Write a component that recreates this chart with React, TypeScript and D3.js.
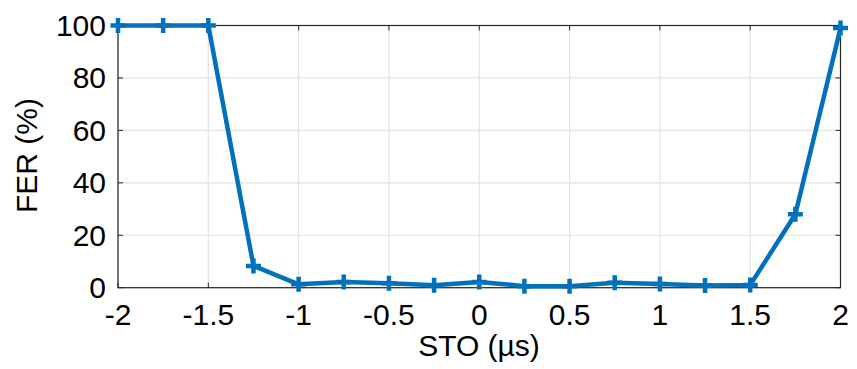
import React from "react";
import * as d3 from "d3";

const stoValues = [-2, -1.75, -1.5, -1.25, -1, -0.75, -0.5, -0.25, 0, 0.25, 0.5, 0.75, 1, 1.25, 1.5, 1.75, 2];
const ferValues = [100, 100, 100, 8.3, 1.3, 2.2, 1.7, 0.9, 2.2, 0.6, 0.6, 1.9, 1.4, 0.8, 1.0, 28, 99];
const xTicks = [-2, -1.5, -1, -0.5, 0, 0.5, 1, 1.5, 2];
const yTicks = [0, 20, 40, 60, 80, 100];

const W = 857, H = 369;
const left = 118, right = 840.5, top = 25.5, bottom = 287.7;

export default function App() {
  const x = d3.scaleLinear().domain([-2, 2]).range([left, right]);
  const y = d3.scaleLinear().domain([0, 100]).range([bottom, top]);
  const line = d3.line<number>().x((_, i) => x(stoValues[i])).y((d) => y(d));
  const font = "Liberation Sans, Arial, sans-serif";
  const fs = 30;
  const tl = 5;
  const ms = 7.5;
  return (
    <svg width={W} height={H} style={{ position: "absolute", left: 0, top: 0 }}>
      <rect x={0} y={0} width={W} height={H} fill="#fff" />
      {xTicks.map((t) => (
        <line key={"gx" + t} x1={x(t)} x2={x(t)} y1={top} y2={bottom} stroke="#e3e3e3" strokeWidth={1.2} />
      ))}
      {yTicks.map((t) => (
        <line key={"gy" + t} x1={left} x2={right} y1={y(t)} y2={y(t)} stroke="#e3e3e3" strokeWidth={1.2} />
      ))}
      {xTicks.map((t) => (
        <g key={"tx" + t}>
          <line x1={x(t)} x2={x(t)} y1={bottom} y2={bottom - tl} stroke="#262626" strokeWidth={1} />
          <line x1={x(t)} x2={x(t)} y1={top} y2={top + tl} stroke="#262626" strokeWidth={1} />
          <text x={x(t)} y={325} textAnchor="middle" fontFamily={font} fontSize={fs} fill="#000">
            {String(t)}
          </text>
        </g>
      ))}
      {yTicks.map((t) => (
        <g key={"ty" + t}>
          <line x1={left} x2={left + tl} y1={y(t)} y2={y(t)} stroke="#262626" strokeWidth={1} />
          <line x1={right} x2={right - tl} y1={y(t)} y2={y(t)} stroke="#262626" strokeWidth={1} />
          <text x={106} y={y(t) + 10.5} textAnchor="end" fontFamily={font} fontSize={fs} fill="#000">
            {String(t)}
          </text>
        </g>
      ))}
      <rect x={left} y={top} width={right - left} height={bottom - top} fill="none" stroke="#262626" strokeWidth={1.2} />
      <path d={line(ferValues) || ""} fill="none" stroke="#0072BD" strokeWidth={4.5} strokeLinejoin="round" />
      {ferValues.map((v, i) => (
        <path
          key={"m" + i}
          d={`M${x(stoValues[i]) - ms},${y(v)}H${x(stoValues[i]) + ms}M${x(stoValues[i])},${y(v) - ms}V${y(v) + ms}`}
          stroke="#0072BD"
          strokeWidth={4.5}
        />
      ))}
      <text x={479} y={356} textAnchor="middle" fontFamily={font} fontSize={fs} fill="#000">
        STO (µs)
      </text>
      <text transform={`translate(37,155.5) rotate(-90)`} textAnchor="middle" fontFamily={font} fontSize={fs} fill="#000">
        FER (%)
      </text>
    </svg>
  );
}
